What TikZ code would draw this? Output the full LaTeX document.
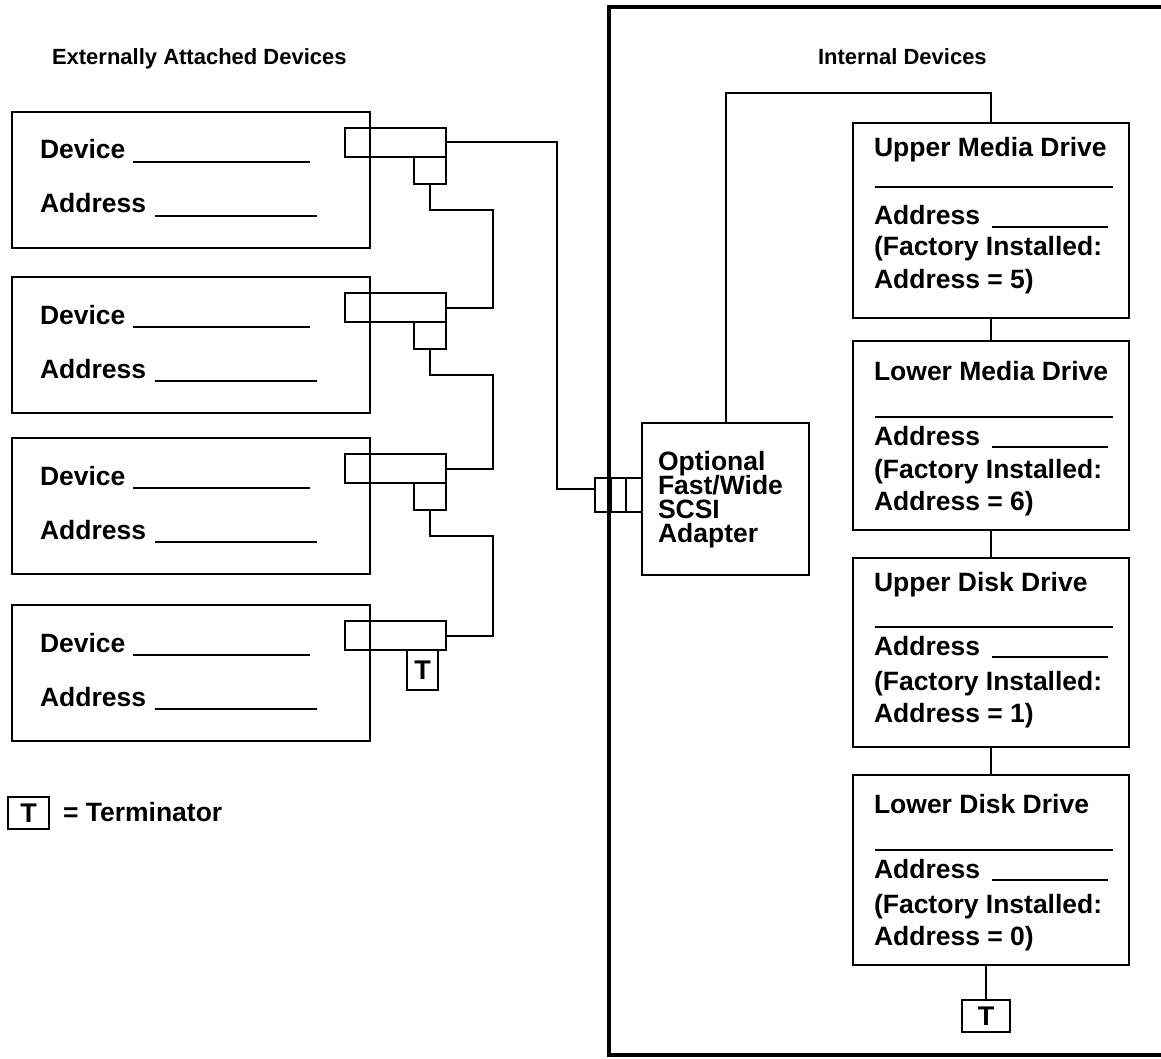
\documentclass[tikz,border=0pt]{standalone}
\usepackage{fontspec}
\setmainfont{Liberation Sans}
\begin{document}
\begin{tikzpicture}[x=1pt,y=-1pt,
  box/.style={draw, line width=2.2pt, inner sep=0pt, outer sep=0pt},
  wire/.style={line width=2pt},
  frame/.style={line width=3.5pt},
  blank/.style={line width=1.3pt},
  lbl/.style={anchor=base west, inner sep=0pt, outer sep=0pt, font=\bfseries\fontsize{26.5}{28}\selectfont},
  head/.style={anchor=base west, inner sep=0pt, outer sep=0pt, font=\bfseries\fontsize{22}{24}\selectfont},
  term/.style={box, font=\bfseries\fontsize{27}{28}\selectfont}]
\useasboundingbox (0,0) rectangle (1161,1059);

% headings
\node[head] (hext) at (52,65) {Externally Attached Devices};
\node[head] (hint) at (818,65) {Internal Devices};

% internal frame
\draw[frame] (1161,7) -- (609,7) -- (609,1055) -- (1161,1055);

% external devices
\foreach \i/\t in {1/112,2/277,3/438,4/605}{
  \node[box, minimum width=358pt, minimum height=136pt, anchor=north west] (d\i) at (12,\t) {};
  \node[lbl] (dv\i) at (40,{\t+47}) {Device};
  \node[lbl] (da\i) at (40,{\t+101}) {Address};
  \draw[blank] (133,{\t+50}) -- (310,{\t+50});
  \draw[blank] (155,{\t+104}) -- (317,{\t+104});
  \node[box, minimum width=101pt, minimum height=29pt, anchor=north west] (c\i b) at (345,{\t+16}) {};
}
\foreach \i in {1,2,3}{
  \node[box, minimum width=32pt, minimum height=27pt, anchor=north east] (c\i s) at (c\i b.south east) {};
}
\node[term, minimum width=31pt, minimum height=40pt, anchor=north] (t4) at (422.5,650) {T};

% daisy chain wires
\draw[wire] (c1s.south) -- ++(0,26) -| ([xshift=47pt]c2b.east) -- (c2b.east);
\draw[wire] (c2s.south) -- ++(0,26) -| ([xshift=47pt]c3b.east) -- (c3b.east);
\draw[wire] (c3s.south) -- ++(0,26) -| ([xshift=47pt]c4b.east) -- (c4b.east);

% adapter
\node[box, minimum width=16pt, minimum height=34pt, anchor=north west] (p1) at (595,478) {};
\node[box, minimum width=16pt, minimum height=34pt, anchor=north west] (p2) at (610,478) {};
\node[box, minimum width=16pt, minimum height=34pt, anchor=north west] (p3) at (626,478) {};
\node[box, minimum width=167pt, minimum height=152pt, anchor=north west] (ad) at (642,423) {};
\node[lbl] (ad1) at (658,470) {Optional};
\node[lbl] (ad2) at (658,494) {Fast/Wide};
\node[lbl] (ad3) at (658,518) {SCSI};
\node[lbl] (ad4) at (658,542) {Adapter};
\draw[wire] (c1b.east) -| ([xshift=-38pt,yshift=6pt]p1.west) -- ([yshift=6pt]p1.west);

% internal devices
\foreach \i/\t/\h/\name/\num/\a/\b/\c/\d/\e in {
  1/123/195/Upper Media Drive/5/157/187/225/256/288,
  2/341/189/Lower Media Drive/6/380/417/445/478/510,
  3/558/189/Upper Disk Drive/1/591/627/655/690/722,
  4/775/190/Lower Disk Drive/0/813/850/878/913/945}{
  \node[box, minimum width=276pt, minimum height=\h pt, anchor=north west] (u\i) at (853,\t) {};
  \node[lbl] (ut\i) at (874,\a) {\name};
  \draw[blank] (875,\b) -- (1113,\b);
  \node[lbl] (ua\i) at (874,\c) {Address};
  \draw[blank] (992,{\c+2}) -- (1108,{\c+2});
  \node[lbl] (uf\i) at (874,\d) {(Factory Installed:};
  \node[lbl] (un\i) at (874,\e) {Address = \num)};
}
\draw[wire] (u1.south) -- (u2.north);
\draw[wire] (u2.south) -- (u3.north);
\draw[wire] (u3.south) -- (u4.north);
\node[term, minimum width=48pt, minimum height=32pt, anchor=north] (t5) at (986,1000) {T};
\draw[wire] (t5.north) -- (t5.north |- u4.south);
\draw[wire] (ad.north) |- ([yshift=30pt]u1.north) -- (u1.north);

% legend
\node[term, minimum width=41pt, minimum height=32pt, anchor=north west] (lt) at (8,797) {T};
\node[lbl] (ltx) at (63,821) {= Terminator};
\end{tikzpicture}
\end{document}
